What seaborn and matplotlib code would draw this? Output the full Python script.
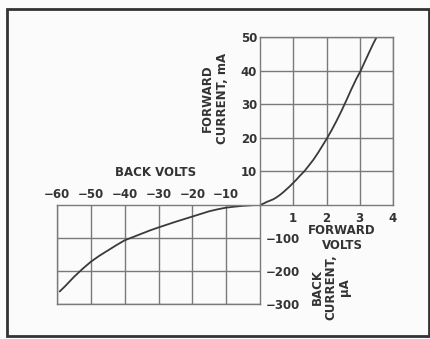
import matplotlib
matplotlib.use("Agg")
import matplotlib.pyplot as plt
import seaborn as sns
import pandas as pd
from matplotlib.patches import Rectangle

# forward characteristic (volts, mA)
fwd_volts = [0, 0.1, 0.2, 0.3, 0.4, 0.5, 0.6, 0.7, 0.8, 0.9, 1.0, 1.1, 1.2, 1.33, 1.45,
             1.6, 1.75, 1.9, 2.0, 2.15, 2.3, 2.45, 2.6, 2.75, 2.9, 3.03, 3.15, 3.3, 3.4, 3.51]
fwd_ma = [0, 0.4, 0.9, 1.3, 1.7, 2.3, 3.0, 3.8, 4.7, 5.6, 6.6, 7.6, 8.7, 10, 11.5,
          13.4, 15.6, 18, 19.6, 22.2, 25, 28, 31.2, 34.5, 37.6, 40, 42.6, 45.8, 47.9, 50]

# back characteristic (volts, microamps)
back_volts = [0, -2, -5, -7.5, -10, -12.5, -15, -17.5, -20, -22.5, -25, -27.5, -30, -32.5,
              -35, -37.5, -40, -42.5, -45, -47.5, -50, -52.5, -55, -57.5, -59.2]
back_ua = [0, -0.5, -2.5, -5, -8, -13, -19, -27, -35, -43, -51, -59.5, -68, -77,
           -87, -97, -107, -122, -138, -154, -172, -194, -218, -245, -262]

fwd_xticks = [1, 2, 3, 4]
fwd_yticks = [10, 20, 30, 40, 50]
back_xticks = [-60, -50, -40, -30, -20, -10]
back_xlabels = ["−60", "−50", "−40", "−30", "−20", "−10"]
back_yticks = [-100, -200, -300]
back_ylabels = ["−100", "−200", "−300"]

fwd = pd.DataFrame({"volts": fwd_volts, "current": fwd_ma})
back = pd.DataFrame({"volts": back_volts, "current": back_ua})

sns.set_style("white")
plt.rcParams["font.family"] = ["DejaVu Sans"]
plt.rcParams["font.weight"] = "bold"

W, H = 431, 339
fig = plt.figure(figsize=(W / 100, H / 100), dpi=100, facecolor="#fbfbfb")

grid_c = "#7a7a7a"
curve_c = "#3a3a3a"
txt_c = "#333333"
fs = 8.5


def px_axes(x0, y0, x1, y1):
    return fig.add_axes([x0 / W, 1 - y1 / H, (x1 - x0) / W, (y1 - y0) / H])


def style(ax):
    ax.set_facecolor("none")
    ax.grid(True, color=grid_c, linewidth=1.0)
    for s in ax.spines.values():
        s.set_visible(True)
        s.set_color(grid_c)
        s.set_linewidth(1.0)
    ax.tick_params(length=0, labelsize=fs, labelcolor=txt_c)
    ax.set_xlabel("")
    ax.set_ylabel("")


# upper right quadrant
ax1 = px_axes(260, 37, 393, 205)
sns.lineplot(data=fwd, x="volts", y="current", ax=ax1, color=curve_c, linewidth=1.3)
ax1.set_xlim(0, 4)
ax1.set_ylim(0, 50)
ax1.set_xticks(fwd_xticks)
ax1.set_yticks(fwd_yticks)
style(ax1)
ax1.tick_params(axis="x", pad=5)
ax1.tick_params(axis="y", pad=2)

# lower left quadrant
ax2 = px_axes(57, 205, 260, 304)
sns.lineplot(data=back, x="volts", y="current", ax=ax2, color=curve_c, linewidth=1.3)
ax2.set_xlim(-60, 0)
ax2.set_ylim(-300, 0)
ax2.set_xticks(back_xticks)
ax2.set_xticklabels(back_xlabels)
ax2.set_yticks(back_yticks)
ax2.set_yticklabels(back_ylabels)
style(ax2)
ax2.xaxis.tick_top()
ax2.yaxis.tick_right()
ax2.tick_params(axis="x", pad=3)
ax2.tick_params(axis="y", pad=4)

# axis titles
def ftext(x, y, s, **kw):
    fig.text(x / W, 1 - y / H, s, fontsize=fs, color=txt_c, fontweight="bold",
             ha="center", va="center", multialignment="center", **kw)

ftext(156, 172, "BACK VOLTS")
ftext(215, 98, "FORWARD\nCURRENT, mA", rotation=90, linespacing=1.25)
ftext(342, 238, "FORWARD\nVOLTS", linespacing=1.15)
ftext(331, 287, "BACK\nCURRENT,\nμA", rotation=90, linespacing=1.1)

# outer frame
fig.patches.append(Rectangle((7 / W, 1 - 336 / H), 422 / W, 327 / H, transform=fig.transFigure,
                             fill=False, edgecolor="#333333", linewidth=2))

fig.savefig("out.png", dpi=100, facecolor=fig.get_facecolor())
